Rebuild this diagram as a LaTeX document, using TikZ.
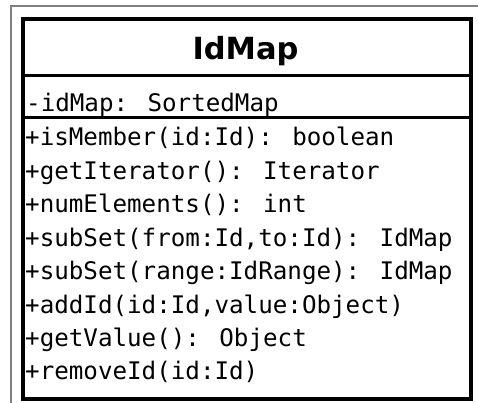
\documentclass[tikz,border=0pt]{standalone}
\usepackage{fontspec}
\setmainfont{DejaVu Sans}
\newfontfamily\umlmono{DejaVu Sans Mono}
\begin{document}
\begin{tikzpicture}[x=1pt,y=-1pt,
  frame/.style={draw=black!50, line width=1.5pt},
  classbox/.style={draw=black, line width=4pt, inner sep=0pt},
  divider/.style={draw=black, line width=3pt},
  member/.style={anchor=base west, inner sep=0pt, font=\umlmono\fontsize{24.2}{29}\selectfont},
  classname/.style={anchor=base, inner sep=0pt, font=\bfseries\fontsize{30.5}{36}\selectfont}]
\useasboundingbox (0,0) rectangle (478,403);
\fill[white] (0,0) rectangle (478,403);
% outer frame, running past the right and bottom edges
\begin{scope}
  \clip (0,0) rectangle (478,403);
  \draw[frame] (11,6) rectangle (500,430);
\end{scope}
% class rectangle
\node[classbox, minimum width=448.3pt, minimum height=380pt, anchor=north west] (cls) at (21,17) {};
\coordinate (d1w) at (21,76);
\coordinate (d1e) at (469.3,76);
\coordinate (d2w) at (21,117.5);
\coordinate (d2e) at (469.3,117.5);
\draw[divider] (d1w) -- (d1e);
\draw[divider] (d2w) -- (d2e);
% class name
\node[classname] (name) at (245.5,60) {IdMap};
% attribute
\node[member] (attr) at (26,112) {-idMap: SortedMap};
% operations
\node[member] (op1) at (25,146.0) {+isMember(id:Id): boolean};
\node[member] (op2) at (25,179.4) {+getIterator(): Iterator};
\node[member] (op3) at (25,212.8) {+numElements(): int};
\node[member] (op4) at (25,246.2) {+subSet(from:Id,to:Id): IdMap};
\node[member] (op5) at (25,279.6) {+subSet(range:IdRange): IdMap};
\node[member] (op6) at (25,313.0) {+addId(id:Id,value:Object)};
\node[member] (op7) at (25,346.4) {+getValue(): Object};
\node[member] (op8) at (25,379.8) {+removeId(id:Id)};
\end{tikzpicture}
\end{document}
